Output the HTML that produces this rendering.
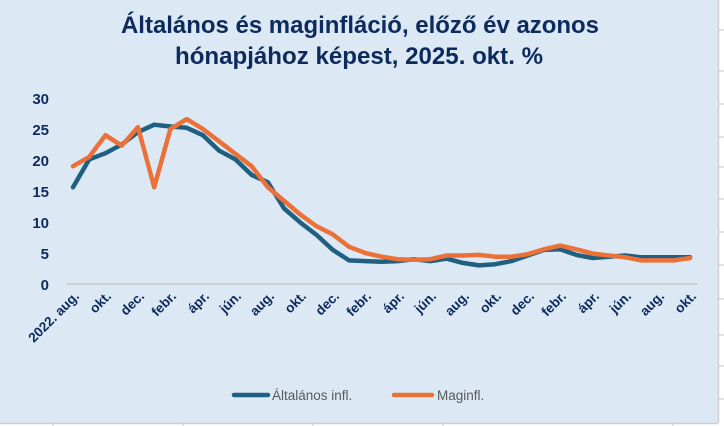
<!DOCTYPE html>
<html><head><meta charset="utf-8"><style>
html,body{margin:0;padding:0;background:#fff;}
svg{display:block;}
</style></head><body>
<svg width="724" height="426" viewBox="0 0 724 426" xmlns="http://www.w3.org/2000/svg">
<rect x="0" y="0" width="718" height="423" fill="#dce9f5"/>
<line x1="718.5" y1="0" x2="718.5" y2="423" stroke="#d0d0d0" stroke-width="1.5"/>
<line x1="0" y1="423.5" x2="718" y2="423.5" stroke="#d0d0d0" stroke-width="1.5"/>
<g stroke="#c8c8c8" stroke-width="1"><line x1="718" y1="30" x2="724" y2="30"/><line x1="718" y1="71" x2="724" y2="71"/><line x1="718" y1="104" x2="724" y2="104"/><line x1="718" y1="137" x2="724" y2="137"/><line x1="718" y1="167" x2="724" y2="167"/><line x1="718" y1="199" x2="724" y2="199"/><line x1="718" y1="232" x2="724" y2="232"/><line x1="718" y1="265" x2="724" y2="265"/><line x1="718" y1="299" x2="724" y2="299"/><line x1="718" y1="335" x2="724" y2="335"/><line x1="718" y1="366" x2="724" y2="366"/><line x1="718" y1="399" x2="724" y2="399"/><line x1="53" y1="423" x2="53" y2="426"/><line x1="183" y1="423" x2="183" y2="426"/><line x1="313" y1="423" x2="313" y2="426"/><line x1="443" y1="423" x2="443" y2="426"/><line x1="673" y1="423" x2="673" y2="426"/></g>
<g font-family="'Liberation Sans Narrow','Liberation Sans',sans-serif" font-weight="bold" font-size="24" fill="#0d2a5c" text-anchor="middle">
<text x="360" y="33" textLength="478" lengthAdjust="spacingAndGlyphs">Általános és maginfláció, előző év azonos</text>
<text x="359" y="64" textLength="368" lengthAdjust="spacingAndGlyphs">hónapjához képest, 2025. okt. %</text>
</g>
<g font-family="'Liberation Sans',sans-serif" font-weight="bold" font-size="15" fill="#0d2a5c" text-anchor="end">
<text x="49" y="104">30</text><text x="49" y="135">25</text><text x="49" y="166">20</text><text x="49" y="197">15</text><text x="49" y="228">10</text><text x="49" y="259">5</text><text x="49" y="290">0</text>
</g>
<line x1="66" y1="284" x2="697" y2="284" stroke="#d0d0d0" stroke-width="2"/>
<g font-family="'Liberation Sans',sans-serif" font-weight="bold" font-size="13.5" fill="#0d2a5c" text-anchor="end">
<text transform="translate(80,297) rotate(-45)">2022. aug.</text>
<text transform="translate(112,297) rotate(-45)">okt.</text>
<text transform="translate(145,297) rotate(-45)">dec.</text>
<text transform="translate(177,297) rotate(-45)">febr.</text>
<text transform="translate(210,297) rotate(-45)">ápr.</text>
<text transform="translate(242,297) rotate(-45)">jún.</text>
<text transform="translate(275,297) rotate(-45)">aug.</text>
<text transform="translate(307,297) rotate(-45)">okt.</text>
<text transform="translate(340,297) rotate(-45)">dec.</text>
<text transform="translate(372,297) rotate(-45)">febr.</text>
<text transform="translate(405,297) rotate(-45)">ápr.</text>
<text transform="translate(437,297) rotate(-45)">jún.</text>
<text transform="translate(470,297) rotate(-45)">aug.</text>
<text transform="translate(502,297) rotate(-45)">okt.</text>
<text transform="translate(535,297) rotate(-45)">dec.</text>
<text transform="translate(567,297) rotate(-45)">febr.</text>
<text transform="translate(600,297) rotate(-45)">ápr.</text>
<text transform="translate(632,297) rotate(-45)">jún.</text>
<text transform="translate(665,297) rotate(-45)">aug.</text>
<text transform="translate(697,297) rotate(-45)">okt.</text>
</g>
<polyline fill="none" stroke="#1f5f7f" stroke-width="4.5" stroke-linejoin="round" stroke-linecap="round" points="73.0,187.3 89.2,159.4 105.5,153.2 121.7,144.5 138.0,132.1 154.2,124.7 170.4,126.5 186.7,127.8 202.9,135.2 219.2,150.7 235.4,159.4 251.6,174.9 267.9,182.3 284.1,208.4 300.4,222.6 316.6,235.0 332.8,249.9 349.1,260.4 365.3,261.1 381.6,261.7 397.8,261.1 414.0,259.2 430.3,261.1 446.5,258.6 462.8,262.9 479.0,265.4 495.2,264.2 511.5,261.1 527.7,255.5 544.0,249.9 560.2,249.3 576.4,254.9 592.7,258.0 608.9,256.7 625.2,255.5 641.4,257.3 657.6,257.3 673.9,257.3 690.1,257.3"/>
<polyline fill="none" stroke="#eb7139" stroke-width="4.5" stroke-linejoin="round" stroke-linecap="round" points="73.0,166.2 89.2,156.9 105.5,135.2 121.7,145.7 138.0,127.1 154.2,187.3 170.4,129.0 186.7,119.1 202.9,129.0 219.2,141.4 235.4,153.8 251.6,166.2 267.9,187.3 284.1,200.9 300.4,214.6 316.6,226.3 332.8,234.4 349.1,246.8 365.3,253.0 381.6,256.7 397.8,259.2 414.0,259.8 430.3,259.2 446.5,255.5 462.8,255.5 479.0,254.9 495.2,256.7 511.5,256.7 527.7,254.2 544.0,249.3 560.2,245.6 576.4,249.3 592.7,253.6 608.9,255.5 625.2,257.3 641.4,260.4 657.6,260.4 673.9,260.4 690.1,258.0"/>
<line x1="234" y1="395" x2="268" y2="395" stroke="#1f5f7f" stroke-width="4.5" stroke-linecap="round"/>
<text x="272" y="400" font-family="'Liberation Sans',sans-serif" font-size="13.5" fill="#595959">Általános infl.</text>
<line x1="394" y1="395" x2="432" y2="395" stroke="#eb7139" stroke-width="4.5" stroke-linecap="round"/>
<text x="437" y="400" font-family="'Liberation Sans',sans-serif" font-size="13.5" fill="#595959">Maginfl.</text>
</svg>
</body></html>
